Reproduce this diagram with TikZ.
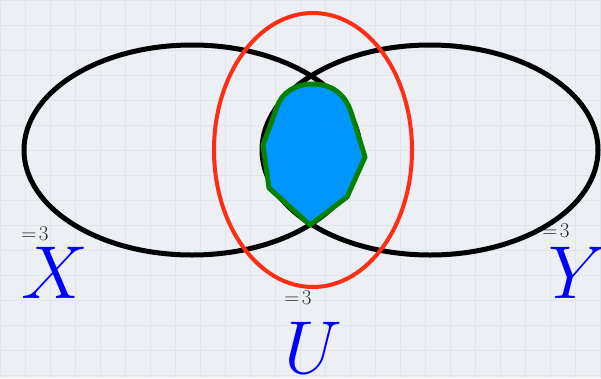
\RequirePackage{fix-cm}
\documentclass[tikz,border=0pt]{standalone}
\usepackage{tikz}
\definecolor{bgc}{RGB}{236,239,243}
\definecolor{gridc}{RGB}{224,229,235}
\definecolor{redc}{RGB}{255,45,20}
\definecolor{fillc}{RGB}{0,150,255}
\definecolor{greenc}{RGB}{0,130,0}
\tikzset{
  setline/.style={line width=5pt, draw=black},
  bigletter/.style={inner sep=0pt, text=blue, font=\fontsize{75}{80}\selectfont},
  smalllabel/.style={inner sep=0pt, text=black!85, font=\fontsize{21}{24}\selectfont},
}
\begin{document}
\begin{tikzpicture}[x=1pt,y=-1pt]
\useasboundingbox (0,0) rectangle (601,378);
\fill[bgc] (0,0) rectangle (601,378);
\foreach \gx in {0,25,...,600} {\draw[gridc, line width=0.6pt] (\gx,0) -- (\gx,378);}
\foreach \gy in {0,25,...,375} {\draw[gridc, line width=0.6pt] (0,\gy) -- (601,\gy);}
% sets
\draw[setline] (192,150) ellipse [x radius=168, y radius=105];
\draw[setline] (430,150) ellipse [x radius=168, y radius=105];
\draw[redc, line width=4pt] (313,150) ellipse [x radius=99, y radius=137];
% intersection region
\draw[greenc, line width=5pt, fill=fillc, line join=round]
  (310,225) -- (269,188) -- (263,145) -- (277,107)
  .. controls (282,92) and (296,84) .. (312,84)
  .. controls (330,84) and (344,92) .. (351,112)
  -- (365,157) -- (347,197) -- cycle;
% labels
\node[smalllabel] (lx) at (35,234) {$=\!3$};
\node[bigletter] (X) at (55,273) {$X$};
\node[smalllabel] (ly) at (556,231) {$=\!3$};
\node[bigletter] (Y) at (578,273) {$Y$};
\node[smalllabel] (lu) at (298,298) {$=\!3$};
\node[bigletter] (U) at (313,348) {$U$};
\end{tikzpicture}
\end{document}
